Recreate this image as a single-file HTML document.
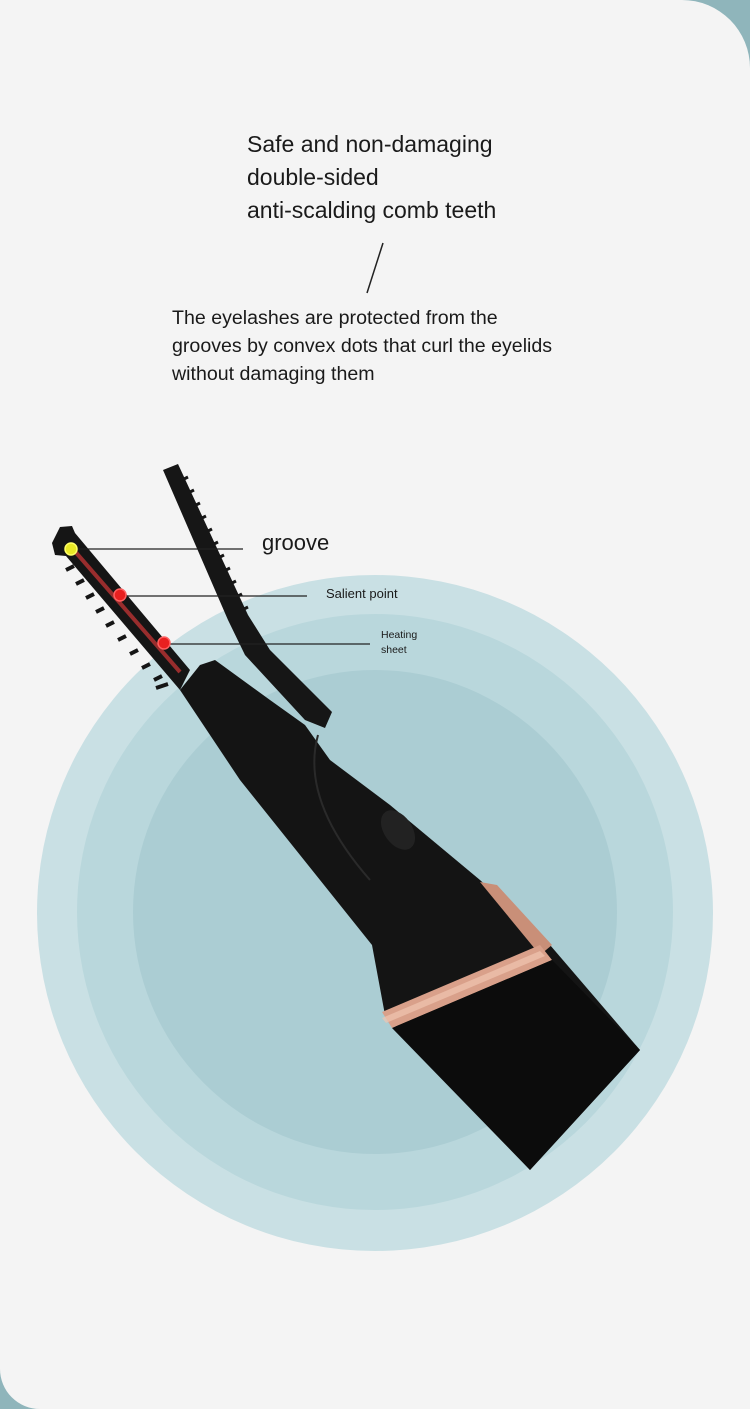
<!DOCTYPE html>
<html><head><style>
html,body{margin:0;padding:0}
body{width:750px;height:1409px;position:relative;overflow:hidden;background:#8fb5bb;font-family:"Liberation Sans",sans-serif;color:#1a1a1a}
#bg{position:absolute;left:0;top:0;width:750px;height:1409px;background:#f4f4f4;border-top-right-radius:68px;border-bottom-left-radius:40px}
.t{position:absolute;white-space:nowrap}
</style></head><body>
<div id="bg"></div>
<svg width="750" height="1409" style="position:absolute;left:0;top:0">
<circle cx="375" cy="913" r="338" fill="#c9e0e4"/>
<circle cx="375" cy="912" r="298" fill="#b9d7dc"/>
<circle cx="375" cy="912" r="242" fill="#abcdd3"/>
<line x1="383" y1="243" x2="367" y2="293" stroke="#222" stroke-width="1.5"/>
<polygon points="163,470 178,464 248,615 270,650 332,712 325,728 305,720 245,655 228,620" fill="#161616"/>
<g stroke="#161616" stroke-width="3">
<line x1="182" y1="480" x2="188" y2="477"/><line x1="188" y1="493" x2="194" y2="490"/><line x1="194" y1="506" x2="200" y2="503"/><line x1="200" y1="519" x2="206" y2="516"/><line x1="206" y1="532" x2="212" y2="529"/><line x1="212" y1="545" x2="218" y2="542"/><line x1="218" y1="558" x2="224" y2="555"/><line x1="224" y1="571" x2="230" y2="568"/><line x1="230" y1="584" x2="236" y2="581"/><line x1="236" y1="597" x2="242" y2="594"/><line x1="242" y1="610" x2="248" y2="607"/>
</g>
<polygon points="52,543 60,527 72,526 75,533 190,670 180,690 66,556 55,555" fill="#151515"/>
<line x1="72" y1="548" x2="180" y2="672" stroke="#b33" stroke-width="4" opacity=".8"/>
<g stroke="#151515" stroke-width="4">
<line x1="66" y1="570" x2="74" y2="566"/><line x1="76" y1="584" x2="84" y2="580"/><line x1="86" y1="598" x2="94" y2="594"/><line x1="96" y1="612" x2="104" y2="608"/><line x1="106" y1="626" x2="114" y2="622"/><line x1="118" y1="640" x2="126" y2="636"/><line x1="130" y1="654" x2="138" y2="650"/><line x1="142" y1="668" x2="150" y2="664"/><line x1="154" y1="680" x2="162" y2="676"/><line x1="156" y1="688" x2="168" y2="684"/>
</g>
<polygon points="180,690 200,665 215,660 270,700 305,725 330,760 390,805 480,880 550,945 640,1050 530,1170 385,1015 372,945 300,855 240,780" fill="#141414"/>
<path d="M318,735 Q300,800 370,880" stroke="#2a2a2a" stroke-width="2" fill="none"/>
<ellipse cx="398" cy="830" rx="14" ry="22" transform="rotate(-35 398 830)" fill="#222"/>
<polygon points="480,882 497,885 552,945 540,955" fill="#c98f78"/>
<polygon points="382,1012 540,945 552,960 392,1028" fill="#d9a08a"/>
<polygon points="382,1018 540,951 545,956 386,1023" fill="#f0c4b0" opacity=".7"/>
<polygon points="392,1028 552,960 640,1050 530,1170" fill="#0c0c0c"/>
<line x1="72" y1="549" x2="243" y2="549" stroke="#222" stroke-width="1.2"/>
<line x1="120" y1="596" x2="307" y2="596" stroke="#222" stroke-width="1.2"/>
<line x1="163" y1="644" x2="370" y2="644" stroke="#222" stroke-width="1.2"/>
<circle cx="71" cy="549" r="6" fill="#e8e826" stroke="#ffff66" stroke-width="1.5"/>
<circle cx="120" cy="595" r="6" fill="#e82020" stroke="#ff6060" stroke-width="1.5"/>
<circle cx="164" cy="643" r="6" fill="#e82020" stroke="#ff6060" stroke-width="1.5"/>
</svg>
<div class="t" style="left:247px;top:128px;font-size:23px;line-height:33px">Safe and non-damaging<br>double-sided<br>anti-scalding comb teeth</div>
<div class="t" style="left:172px;top:304px;font-size:19.6px;line-height:28px">The eyelashes are protected from the<br>grooves by convex dots that curl the eyelids<br>without damaging them</div>
<div class="t" style="left:262px;top:530px;font-size:22px">groove</div>
<div class="t" style="left:326px;top:586px;font-size:13px">Salient point</div>
<div class="t" style="left:381px;top:628px;font-size:10.5px;line-height:15px">Heating<br>sheet</div>
</body></html>
